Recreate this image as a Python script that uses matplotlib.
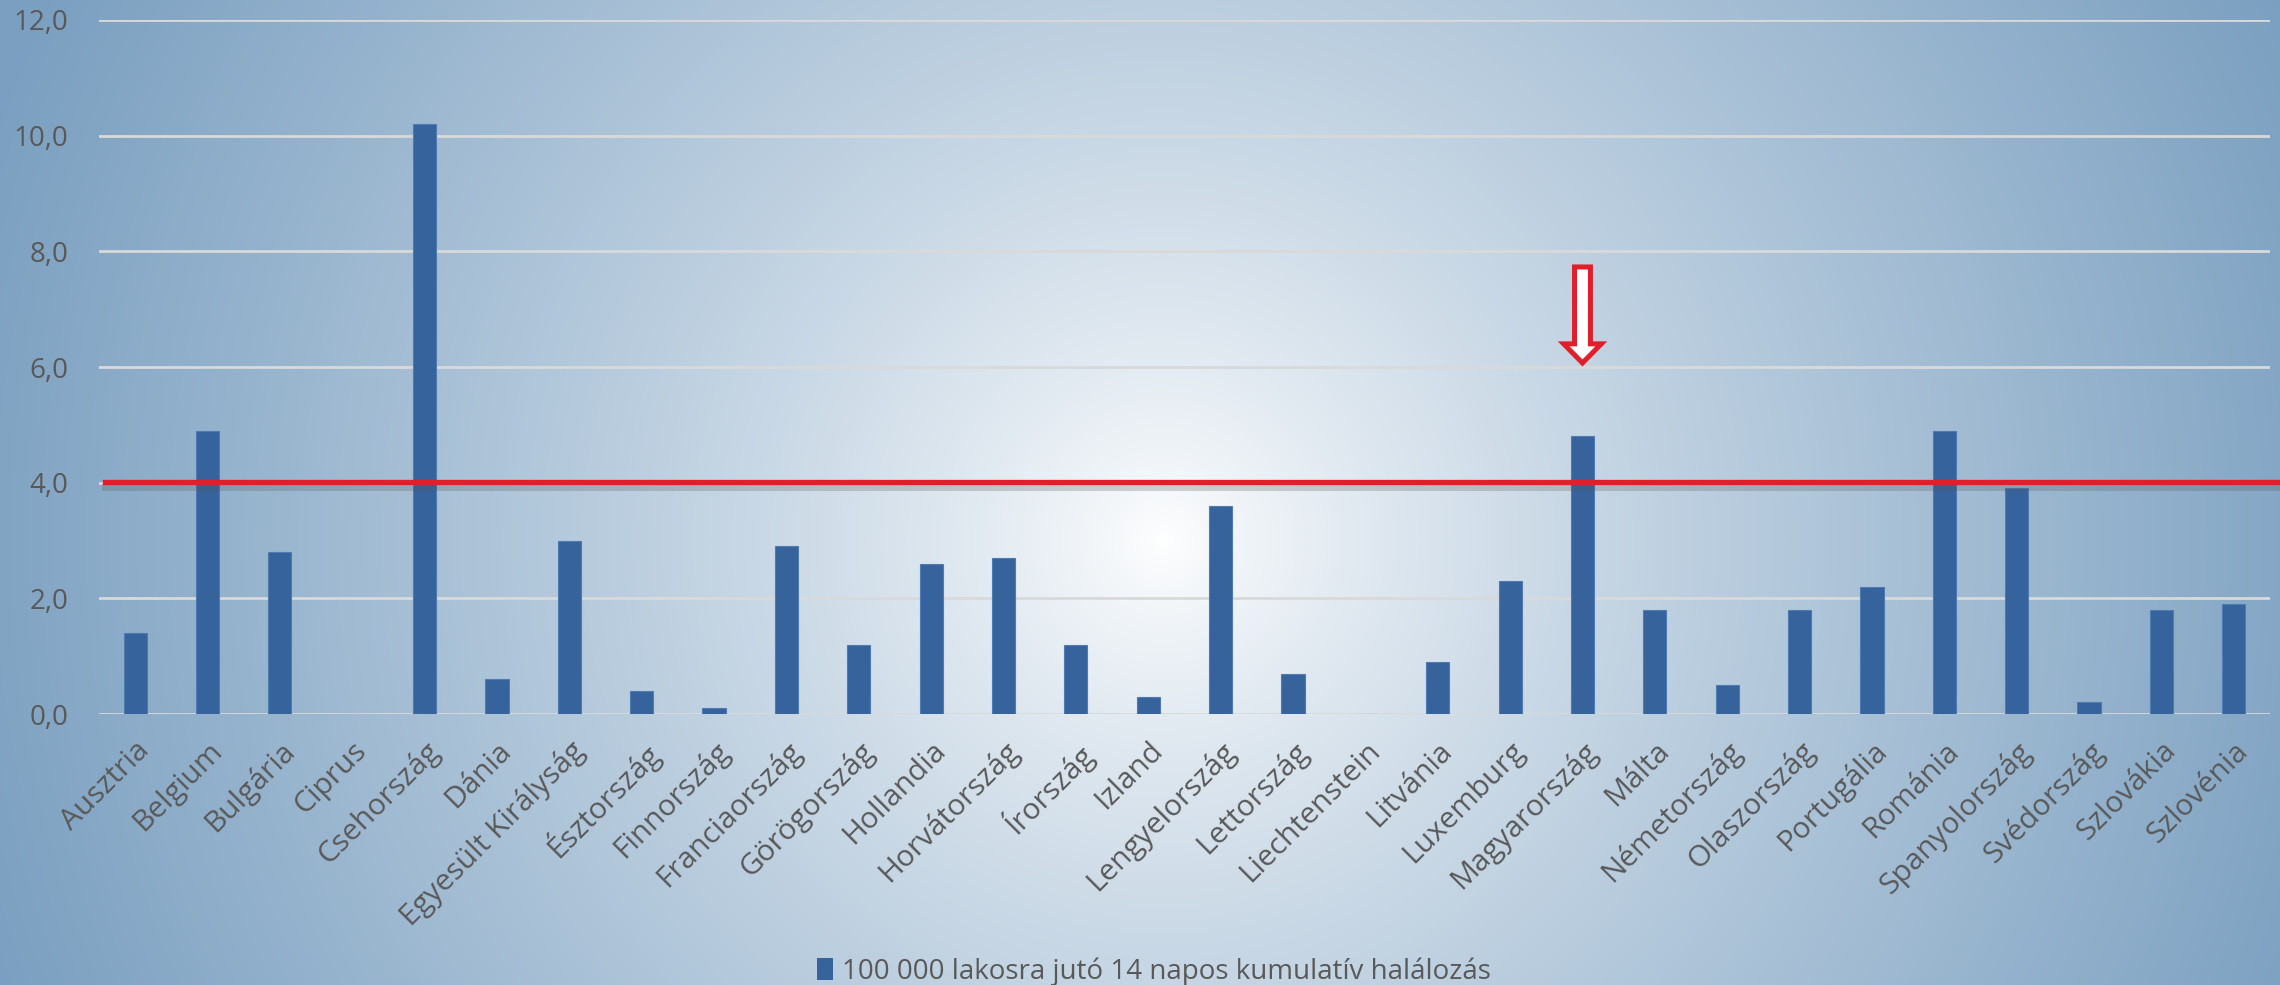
import numpy as np
import matplotlib
matplotlib.use("Agg")
import matplotlib.pyplot as plt
from matplotlib.patches import Patch

countries = ["Ausztria", "Belgium", "Bulgária", "Ciprus", "Csehország", "Dánia",
             "Egyesült Királyság", "Észtország", "Finnország", "Franciaország",
             "Görögország", "Hollandia", "Horvátország", "Írország", "Izland",
             "Lengyelország", "Lettország", "Liechtenstein", "Litvánia", "Luxemburg",
             "Magyarország", "Málta", "Németország", "Olaszország", "Portugália",
             "Románia", "Spanyolország", "Svédország", "Szlovákia", "Szlovénia"]
deaths = [1.4, 4.9, 2.8, 0.0, 10.2, 0.6, 3.0, 0.4, 0.1, 2.9,
          1.2, 2.6, 2.7, 1.2, 0.3, 3.6, 0.7, 0.0, 0.9, 2.3,
          4.8, 1.8, 0.5, 1.8, 2.2, 4.9, 3.9, 0.2, 1.8, 1.9]
threshold = 4.0
highlight = "Magyarország"
arrow_top, arrow_tip = 7.73, 6.07
legend_label = "100 000 lakosra jutó 14 napos kumulatív halálozás"

plt.rcParams['font.family'] = ['Open Sans', 'DejaVu Sans']
txt = "#595959"
bar_col = "#37639C"

fig = plt.figure(figsize=(22.8, 9.85), dpi=100)

# radial background gradient
bg = fig.add_axes([0, 0, 1, 1], zorder=-10)
h, w = 985, 2280
yy, xx = np.mgrid[0:h, 0:w]
r = np.sqrt(((xx - 1163) / 1250.0) ** 2 + ((yy - 540) / 1250.0) ** 2)
t = np.clip(r, 0, 1) ** 0.8
edge = np.array([122, 159, 192]) / 255.0
img = (1 - t[..., None]) * 1.0 + t[..., None] * edge
bg.imshow(img, aspect='auto', extent=[0, 1, 0, 1])
bg.axis('off')

ax = fig.add_axes([0.0434, 0.2751, 0.9522, 0.7046])
ax.set_facecolor('none')
x = np.arange(len(countries))
ax.bar(x, deaths, width=0.32, color=bar_col, edgecolor="#4F7BB5", linewidth=0.8, zorder=3)

ax.set_xlim(-0.5, len(countries) - 0.5)
ax.set_ylim(0, 12)
ax.set_yticks(np.arange(0, 12.1, 2))
ax.yaxis.set_major_formatter(plt.FuncFormatter(lambda v, p: f"{v:.1f}".replace(".", ",")))
ax.grid(axis='y', color="#D9D9D9", linewidth=2)
ax.set_axisbelow(True)
for s in ax.spines.values():
    s.set_visible(False)
ax.tick_params(length=0, colors=txt)
ax.tick_params(axis='y', labelsize=20, pad=22)
ax.set_xticks(x)
ax.set_xticklabels(countries, rotation=45, ha='right', rotation_mode='anchor')
ax.tick_params(axis='x', labelsize=21.5, pad=16)

# red threshold line with a soft shadow
ax.axhline(threshold - 0.07, xmin=0.003, xmax=1.01, color="#555555", alpha=0.25,
           linewidth=5, clip_on=False, zorder=4)
ax.axhline(threshold + 0.02, xmin=0.003, xmax=1.01, color="#E11F2A", linewidth=3.8,
           clip_on=False, zorder=5)

# hollow arrow over Hungary
hx = countries.index(highlight)
ax.arrow(hx, arrow_top, 0, arrow_tip - arrow_top, width=0.22, head_width=0.52,
         head_length=0.33, length_includes_head=True, facecolor="white",
         edgecolor="#E11F2A", linewidth=3.6, zorder=6)

fig.legend(handles=[Patch(facecolor=bar_col, label=legend_label)], loc='lower center',
           bbox_to_anchor=(0.506, -0.026), frameon=False, fontsize=20,
           labelcolor=txt, handlelength=0.6, handleheight=0.8, handletextpad=0.3)

fig.savefig("out.png", dpi=100)
